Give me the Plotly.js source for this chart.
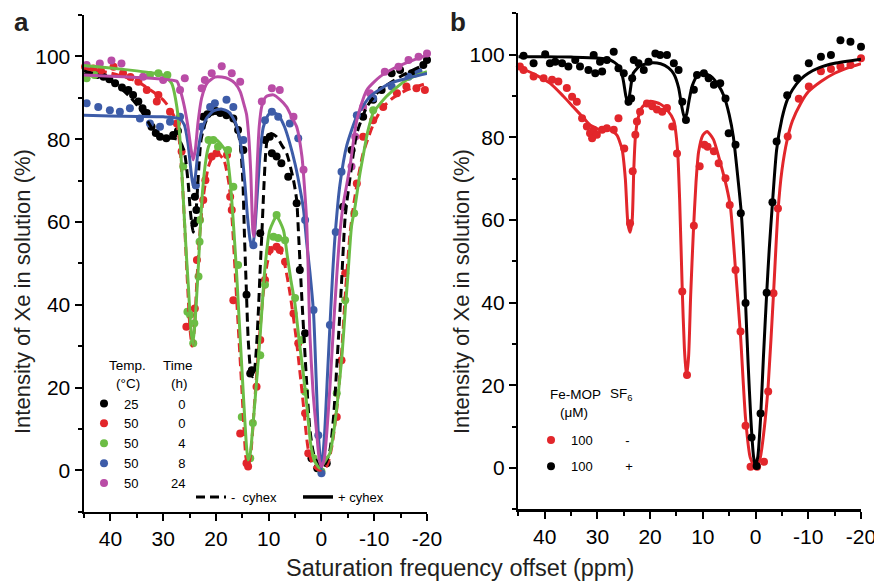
<!DOCTYPE html>
<html>
<head>
<meta charset="utf-8">
<script src="https://cdn.plot.ly/plotly-3.0.1.min.js"></script>
<style>
  html, body { margin: 0; padding: 0; background: #ffffff; }
  #chart { width: 874px; height: 581px; }
</style>
</head>
<body>
<div id="chart"></div>
<script>
// ---------------- data ----------------
const X_TICKS = [40, 30, 20, 10, 0, -10, -20];
const Y_TICKS = [0, 20, 40, 60, 80, 100];

// Panel a legend categories
const A_TEMPS = ['25', '50', '50', '50', '50'];
const A_TIMES = ['0', '0', '4', '8', '24'];
// Panel b legend categories
const B_FEMOP = ['100', '100'];
const B_SF6 = ['-', '+'];

// Panel a — 25 °C, 0 h (− cyhex)
const aBlackPts = [[44.6,95.1],[43.5,96.0],[42.5,95.5],[41.3,95.1],[40.2,94.5],[39.1,93.5],[37.8,92.5],[36.6,91.9],[35.7,90.7],[34.7,89.1],[33.9,87.5],[33.1,86.3],[32.2,83.0],[31.4,81.5],[30.6,80.6],[29.4,80.2],[28.1,81.0],[27.2,82.0],[24.1,59.7],[24.0,66.1],[23.7,62.9],[22.4,85.4],[21.6,86.0],[20.8,86.6],[20.0,86.8],[19.2,86.3],[18.0,85.8],[16.7,85.0],[15.8,82.2],[14.8,77.4],[14.2,42.4],[13.5,23.4],[13.2,24.2],[11.6,57.3],[10.7,79.8],[9.8,80.6],[9.4,76.6],[8.5,75.8],[7.6,74.2],[6.3,70.9],[4.7,64.5],[4.1,48.4],[3.1,33.1],[1.9,2.9],[0.8,0.5],[-1.0,1.7],[-4.1,63.7],[-5.7,77.4],[-7.9,85.4],[-9.8,89.5],[-11.4,91.9],[-13.3,95.9],[-14.9,96.7],[-17.1,95.9],[-19.3,97.9],[-20.0,99.1]];
const aBlackFit = [[45,96.5],[42,95.3],[39,93.3],[36.5,90.5],[34.5,87.5],[33,84.5],[31.5,81.5],[30,80.2],[28.5,80.2],[27,79.8],[26,77],[25.3,70],[24.8,62],[24.3,57.5],[23.8,62],[23.3,72],[22.8,80],[21.8,84.6],[20.5,86.5],[19.2,86.6],[17.3,86.3],[16.1,83],[15.4,79],[14.9,70],[14.6,57],[14.3,46],[13.9,32],[13.5,25],[13.1,22.6],[12.7,24],[12.3,30],[11.9,40],[11.6,49],[11.3,57],[11.0,66],[10.6,76],[10.2,80.5],[9.5,81.4],[8.5,80.6],[7.5,78.5],[6.6,76.6],[5.3,70.1],[4.7,65.3],[4.3,56],[3.7,41.1],[2.8,21],[2.2,10],[1.5,4.1],[0.3,0.9],[-0.7,1.5],[-1.6,4.8],[-2.3,13],[-2.9,25],[-3.4,36],[-3.8,45.2],[-4.5,61.3],[-5.7,73.4],[-6.7,81.4],[-8.6,87.8],[-11.1,91.9],[-14.9,95.1],[-17.5,96.8],[-20,98.3]];

// Panel a — 50 °C, 0 h (− cyhex)
const aRedPts = [[44.8,97.5],[43.2,97.1],[41.8,96.6],[39.4,97.5],[37.6,95.9],[36.2,95.0],[34.7,93.9],[33.1,91.9],[31.2,89.1],[30.9,90.7],[28.7,86.6],[27.4,83.8],[26.5,77.0],[25.6,34.7],[24.0,39.1],[23.6,50.8],[22.4,65.3],[22.0,70.1],[20.8,75.8],[19.9,76.6],[17.9,76.2],[17.3,66.1],[17.0,62.9],[16.7,41.1],[15.4,8.9],[14.2,1.7],[13.9,0.9],[12.3,20.2],[11.6,31.5],[10.7,46.0],[9.8,53.2],[8.5,54.0],[7.9,53.2],[6.9,50.4],[5.3,37.9],[4.4,30.7],[3.1,13.8],[2.5,4.1],[0.6,0.9],[-2.9,12.9],[-3.8,26.6],[-4.5,47.6],[-6.7,69.3],[-7.9,80.6],[-9.8,84.6],[-11.7,87.8],[-14.3,91.1],[-16.1,92.7],[-18.0,92.3],[-19.6,91.9]];
const aRedFit = [[45,97.0],[40,96.0],[35,94.0],[32,91.5],[30,89.5],[28.5,87.0],[27.4,83.8],[26.8,78],[26.2,66],[25.5,48],[24.9,34],[24.5,30],[24.1,34],[23.6,46],[23.0,58],[22.4,66],[21.4,73.5],[20.5,76],[19.6,76.5],[18.5,75],[17.5,69],[16.9,60],[16.1,42],[15.1,20],[14.3,3],[13.9,1],[13.4,4],[12.8,14],[12.0,28],[11.1,42],[10.2,50.5],[9.2,54],[8.2,54],[7.1,50.5],[6.0,43],[4.8,32],[3.6,18],[2.5,5],[1.5,1],[0.3,0],[-1,1],[-2,6],[-3,16],[-3.8,28],[-4.6,44],[-5.4,57],[-6.2,65],[-7,71],[-7.9,76.6],[-9.8,83.5],[-11.5,87.5],[-13.6,90],[-16,91.8],[-20,93.5]];

// Panel a — 50 °C, 4 h (+ cyhex)
const aGreenPts = [[44.5,94.7],[43.0,95.5],[32.5,95.5],[30.9,95.9],[29.2,95.5],[26.2,73.4],[25.4,38.3],[24.9,37.5],[24.3,30.7],[24.1,35.5],[23.3,46.8],[23.1,55.2],[23.0,60.5],[21.4,79.8],[20.5,79.8],[19.6,78.2],[17.7,77.4],[16.7,68.5],[15.8,49.6],[15.1,12.9],[13.5,2.9],[13.0,11.4],[11.6,27.8],[10.7,44.8],[9.1,56.4],[8.5,61.7],[8.2,56.1],[6.9,55.6],[5.0,41.6],[3.7,31.5],[3.1,19.0],[1.5,2.9],[0.0,-0.3],[-2.9,18.6],[-4.5,41.1],[-6.2,62.1],[-9.8,87.0]];
const aGreenFit = [[45,97.8],[40,97.2],[35,96.5],[32,96],[30,95.5],[28.4,93.5],[27.4,87.8],[26.8,79.8],[26.2,66],[25.6,52],[25.2,44],[24.8,35],[24.4,30.3],[24.0,35],[23.7,41],[23.3,50],[22.9,60],[22.5,68],[21.9,75],[21.4,78.2],[20.5,80.2],[19.2,79],[18.0,76.6],[17.3,70],[16.6,58],[16.1,48],[15.1,25],[14.2,5.7],[13.9,2.5],[13.5,4],[12.9,12.2],[12.2,23],[11.6,33],[10.7,49],[9.8,58],[8.5,61.3],[7.2,58],[6.5,52],[5.8,46],[5.0,40],[4.2,31],[3.5,24],[2.8,16],[2.0,6],[1.2,2],[0.3,0.5],[-0.8,2.5],[-1.6,4.1],[-2.4,10],[-3.2,18.6],[-3.9,28],[-4.5,38.7],[-5.0,47],[-5.7,59],[-6.4,64],[-7.2,71],[-7.9,76],[-8.8,82],[-9.8,86.3],[-12.3,90.3],[-16.1,94.3],[-20,96.3]];

// Panel a — 50 °C, 8 h (+ cyhex)
const aBluePts = [[44.5,88.7],[42.3,87.8],[40.1,87.0],[38.2,86.6],[36.3,87.5],[34.4,85.0],[32.5,83.8],[30.6,83.0],[28.7,84.2],[26.8,85.4],[23.8,68.8],[22.7,83.0],[21.1,87.8],[20.2,88.7],[18.0,89.5],[16.7,87.8],[14.8,79.8],[12.9,54.4],[10.7,84.6],[9.4,86.6],[8.2,85.4],[6.0,83.8],[4.4,80.2],[3.1,60.5],[1.5,38.7],[0.6,8.5],[0.0,-0.7],[-1.6,35.1],[-2.7,57.6],[-3.8,72.1],[-6.7,85.8],[-9.8,89.9],[-13.3,92.7],[-16.5,95.1],[-18.4,96.3]];
const aBlueFit = [[45,85.8],[40,85.6],[35,85.5],[30,85.4],[27,85],[26,83.5],[25.3,79],[24.7,72],[24.3,68.5],[23.9,71],[23.4,77],[22.7,82],[21.8,85],[20.5,86.8],[19,87.3],[17.5,86.5],[16.3,84],[15.2,78],[14.5,69],[14.0,61],[13.5,55.5],[13.1,54],[12.7,57],[12.2,66],[11.6,77],[11,83],[10,86],[9,86.4],[8,85.5],[7,83],[6,79],[5,74],[4.2,69],[3.4,63],[2.8,55],[2.2,48],[1.5,38],[1.0,22],[0.6,9],[0,0.3],[-0.6,9],[-1.1,22],[-1.6,34.7],[-2.1,47],[-2.6,57],[-3.5,69],[-4.8,78.5],[-6.7,85.5],[-9.2,90.3],[-13,93.5],[-17.4,95.1],[-20,95.9]];

// Panel a — 50 °C, 24 h (+ cyhex)
const aMagentaPts = [[44.5,97.9],[42.0,98.3],[39.8,99.0],[37.9,98.3],[33.8,95.1],[30.0,94.3],[26.8,91.9],[25.9,94.7],[22.7,92.3],[22.1,94.3],[20.8,95.9],[18.9,97.6],[17.0,95.9],[15.4,93.9],[11.3,89.1],[9.4,92.3],[7.9,91.9],[5.3,85.4],[3.4,72.6],[-5.7,73.4],[-6.4,80.6],[-7.9,87.8],[-9.2,91.1],[-12.0,96.3],[-14.6,97.5],[-16.5,99.1],[-18.4,99.9],[-20.0,100.7]];
const aMagentaFit = [[45,95.5],[40,95.2],[35,94.9],[30,94.5],[27.4,94],[26.8,92],[26,88],[25.3,83],[24.7,77.5],[24.3,75],[23.9,77.5],[23.4,84],[22.7,90],[21.7,93.5],[20.2,95],[18.9,95],[17.5,94.5],[16.4,93.5],[15.4,91.5],[14.6,88],[14.2,86],[13.8,81],[13.4,72],[13.0,58],[12.8,56.5],[12.5,63],[12.2,73],[11.8,83],[11.3,88],[10.5,90.3],[9.1,90.7],[7.8,89.5],[6.6,87.8],[5.5,85],[4.7,83],[3.7,75.8],[3.2,68],[2.8,60],[2.5,48],[2.2,33],[1.6,19],[0.9,8.9],[0.4,2.5],[0,0.9],[-0.5,2.5],[-1,8.9],[-1.6,20],[-2.2,33],[-2.9,47],[-3.5,57.3],[-4.1,64],[-5.4,73.4],[-6.7,84.6],[-8.6,91.9],[-11.1,95.1],[-14.3,97.5],[-17.4,99.1],[-20,100.3]];

// Panel b — Fe-MOP 100 µM, − SF6
const bRedPts = [[44.7,97.1],[44.0,96.3],[42.1,94.7],[40.2,94.3],[38.6,93.9],[37.4,93.5],[35.8,91.9],[34.8,89.8],[33.9,88.6],[32.9,84.6],[32.0,82.6],[31.4,81.0],[31.0,79.8],[30.7,81.8],[30.1,80.6],[29.1,81.8],[28.2,82.2],[26.9,81.8],[26.0,84.6],[24.9,77.3],[23.8,59.2],[23.3,71.8],[22.8,80.6],[22.5,83.8],[21.9,86.2],[20.6,88.2],[19.6,87.5],[18.7,86.7],[17.7,86.2],[16.8,87.1],[15.8,82.6],[14.9,76.1],[13.9,42.7],[13.0,22.5],[11.7,58.6],[10.6,73.0],[9.7,78.2],[9.1,77.7],[7.9,76.6],[7.0,73.7],[5.7,70.1],[4.9,63.6],[3.8,47.9],[2.85,33.0],[1.9,10.2],[0.95,0.3],[-0.3,0.3],[-1.6,1.5],[-2.4,18.5],[-3.4,42.3],[-4.25,62.8],[-6.1,80.2],[-8.2,89.3],[-10.1,92.3],[-12.4,96.0],[-14.3,96.5],[-16.1,97.1],[-18.0,97.5],[-20.0,99.1]];
const bRedFit = [[45,97],[42,95.3],[39,93.1],[36.5,90],[34.6,87.4],[32.5,84.5],[31.4,83],[29.5,81.8],[27.6,81.8],[26.3,80.5],[25.3,77],[24.7,70],[24.2,59],[23.8,57],[23.4,60],[23.1,72],[22.8,80],[22.3,84.5],[21.5,87.3],[20,88.7],[18,88],[16.8,86.7],[15.5,84],[14.8,77],[14.4,65],[13.9,43],[13.5,29],[13.1,22],[12.7,27],[12.3,42],[11.8,57],[11.3,69],[10.8,76.5],[10,80.5],[9.2,81.4],[8,79.5],[6.65,73.7],[5.5,68],[4.75,63],[3.8,48],[2.85,32],[1.9,12],[1,2.5],[0.1,0.3],[-0.8,2],[-1.6,9],[-2.4,20],[-3.4,42],[-4.25,62],[-5,72],[-6,79.4],[-7,84],[-8.55,88.2],[-10,91],[-12.4,93.5],[-15,95.5],[-17.5,96.8],[-20,97.8]];

// Panel b — Fe-MOP 100 µM, + SF6
const bBlackPts = [[44.0,99.7],[42.1,97.9],[39.9,100.1],[39.0,97.9],[38.0,98.3],[36.7,97.9],[35.5,97.1],[34.2,98.7],[33.3,97.1],[31.7,96.3],[30.7,99.9],[30.4,95.5],[29.5,98.3],[29.1,95.9],[28.2,98.7],[26.9,100.7],[26.0,96.7],[25.0,95.5],[24.1,88.6],[23.6,89.4],[23.4,94.3],[23.1,98.7],[22.2,97.9],[21.2,96.3],[20.3,98.3],[19.0,100.3],[18.1,99.9],[16.8,99.9],[15.5,97.9],[14.6,96.3],[13.9,88.6],[13.2,84.2],[11.7,91.5],[11.1,95.1],[9.8,95.5],[8.9,94.3],[7.9,92.7],[6.7,93.1],[5.7,89.4],[5.1,81.0],[3.8,78.2],[2.8,61.6],[1.9,39.9],[0.75,7.4],[-0.2,0.5],[-0.95,13.2],[-2.1,42.4],[-3.2,64.3],[-4.0,79.0],[-6.0,90.2],[-7.9,94.3],[-10.1,97.9],[-12.4,99.5],[-14.3,99.9],[-16.1,103.5],[-18.0,103.1],[-20.0,101.9]];
const bBlackFit = [[45,99.5],[40,99.5],[35,99.4],[30,99.2],[27.5,98.7],[26,97.3],[25.2,94.5],[24.6,90],[24.2,88],[23.8,91],[23.2,95.5],[22,97.2],[20,98],[18,97.8],[16.5,96.8],[15.5,95.3],[14.6,92],[14.0,87.5],[13.5,84.8],[13.1,85.5],[12.6,89],[12,92.5],[11,95],[10,95.6],[8.5,94.8],[7,92.5],[6,90],[5,85.5],[4.2,80],[3.5,72],[2.7,61.6],[2.2,50],[1.9,40],[1.4,25],[0.9,12],[0.4,3],[0.1,0.7],[-0.4,2.5],[-0.95,12],[-1.5,27],[-2.1,42],[-2.6,53],[-3.2,64],[-4,77],[-5,84.5],[-6,89],[-7,91.5],[-8.5,94],[-10,95.5],[-12,96.8],[-15,97.9],[-20,98.9]];

// ---------------- styling ----------------
const FONT = 'Liberation Sans, Arial, Helvetica, sans-serif';
const C_BLACK = '#000000';
const C_RED = '#e2262b';
const C_GREEN = '#6cbd45';
const C_BLUE = '#3d5ca8';
const C_MAGENTA = '#b94ca6';
const NB = n => '\u00a0'.repeat(n);

const xs = a => a.map(p => p[0]);
const ys = a => a.map(p => p[1]);

function pts(data, color, axis, name, legend, group) {
  return {
    type: 'scatter', mode: 'markers', x: xs(data), y: ys(data),
    xaxis: axis[0], yaxis: axis[1], cliponaxis: false,
    marker: { color: color, size: 8, line: { width: 0 } },
    name: name, showlegend: !!legend, legend: legend || 'legend',
    legendgroup: group || undefined, hoverinfo: 'x+y'
  };
}
function fit(data, color, axis, dash, name, legend) {
  return {
    type: 'scatter', mode: 'lines', x: xs(data), y: ys(data),
    xaxis: axis[0], yaxis: axis[1], cliponaxis: false,
    line: { color: color, width: 3, dash: dash || 'solid', shape: 'spline', smoothing: 0.6 },
    name: name || 'fit', showlegend: !!legend, legend: legend || 'legend', hoverinfo: 'skip'
  };
}

const A = ['x', 'y'], B = ['x2', 'y2'];
const rowA = i => A_TEMPS[i] + NB(A_TIMES[i].length > 1 ? 9 : 11) + A_TIMES[i];
const rowB = i => B_FEMOP[i] + NB(9) + B_SF6[i];

const traces = [
  // panel a points
  pts(aBlackPts, C_BLACK, A, rowA(0), 'legend'),
  pts(aRedPts, C_RED, A, rowA(1), 'legend'),
  pts(aGreenPts, C_GREEN, A, rowA(2), 'legend'),
  pts(aBluePts, C_BLUE, A, rowA(3), 'legend'),
  pts(aMagentaPts, C_MAGENTA, A, rowA(4), 'legend'),
  // panel a fits
  fit(aRedFit, C_RED, A, '9px,5px'),
  fit(aBlackFit, C_BLACK, A, '9px,5px', '-' + NB(2) + 'cyhex', 'legend2'),
  fit(aGreenFit, C_GREEN, A),
  fit(aBlueFit, C_BLUE, A),
  fit(aMagentaFit, C_MAGENTA, A),
  // legend key for the solid (+ cyhex) line style
  { type: 'scatter', mode: 'lines', x: [null], y: [null], xaxis: 'x', yaxis: 'y',
    line: { color: C_BLACK, width: 3.5 }, name: '+' + NB(1) + 'cyhex', legend: 'legend2', showlegend: true, hoverinfo: 'skip' },
  // panel b
  pts(bRedPts, C_RED, B, rowB(0), 'legend3', 'r'),
  fit(bRedFit, C_RED, B),
  pts(bBlackPts, C_BLACK, B, rowB(1), 'legend3', 'k'),
  fit(bBlackFit, C_BLACK, B)
];

function xAxis(domain, anchor) {
  return {
    domain: domain, anchor: anchor, range: [45, -20], autorange: false,
    tickvals: X_TICKS, ticktext: X_TICKS.map(String), ticklabeloverflow: 'allow',
    ticks: 'outside', ticklen: 7, tickwidth: 2, tickcolor: C_BLACK,
    minor: { tickvals: [45, 35, 25, 15, 5, -5, -15], ticks: 'outside', ticklen: 4, tickwidth: 2, tickcolor: C_BLACK, showgrid: false },
    showline: true, linewidth: 2.5, linecolor: C_BLACK, showgrid: false, zeroline: false,
    tickfont: { family: FONT, size: 21, color: C_BLACK }
  };
}
function yAxis(domain, anchor) {
  return {
    domain: domain, anchor: anchor, range: [-10, 110], autorange: false,
    tickvals: Y_TICKS, ticktext: Y_TICKS.map(String), ticklabeloverflow: 'allow',
    ticks: 'outside', ticklen: 7, tickwidth: 2, tickcolor: C_BLACK,
    minor: { tickvals: [-10, 10, 30, 50, 70, 90, 110], ticks: 'outside', ticklen: 4, tickwidth: 2, tickcolor: C_BLACK, showgrid: false },
    showline: true, linewidth: 2.5, linecolor: C_BLACK, showgrid: false, zeroline: false,
    tickfont: { family: FONT, size: 21, color: C_BLACK }
  };
}

const W = 874, H = 581;
const px = v => v / W, py = v => 1 - v / H;

const yTitle = 'Intensity of Xe in solution (%)';
const annotations = [
  { text: '<b>a</b>', x: px(21), y: py(22), xref: 'paper', yref: 'paper', showarrow: false, xanchor: 'center', yanchor: 'middle', font: { family: FONT, size: 26, color: '#231f20' } },
  { text: '<b>b</b>', x: px(458), y: py(22), xref: 'paper', yref: 'paper', showarrow: false, xanchor: 'center', yanchor: 'middle', font: { family: FONT, size: 26, color: '#231f20' } },
  { text: yTitle, textangle: -90, x: px(22), y: py(292), xref: 'paper', yref: 'paper', showarrow: false, xanchor: 'center', yanchor: 'middle', font: { family: FONT, size: 22, color: '#231f20' } },
  { text: yTitle, textangle: -90, x: px(461), y: py(292), xref: 'paper', yref: 'paper', showarrow: false, xanchor: 'center', yanchor: 'middle', font: { family: FONT, size: 22, color: '#231f20' } },
  { text: 'Saturation frequency offset (ppm)', x: px(459.7), y: py(568), xref: 'paper', yref: 'paper', showarrow: false, xanchor: 'center', yanchor: 'middle', font: { family: FONT, size: 23.5, color: '#231f20' } },
  // legend headers, panel a
  { text: 'Temp.', x: px(127.5), y: py(365), xref: 'paper', yref: 'paper', showarrow: false, xanchor: 'center', yanchor: 'middle', font: { family: FONT, size: 13.5, color: C_BLACK } },
  { text: '(°C)', x: px(128), y: py(383), xref: 'paper', yref: 'paper', showarrow: false, xanchor: 'center', yanchor: 'middle', font: { family: FONT, size: 13.5, color: C_BLACK } },
  { text: 'Time', x: px(178), y: py(365), xref: 'paper', yref: 'paper', showarrow: false, xanchor: 'center', yanchor: 'middle', font: { family: FONT, size: 13.5, color: C_BLACK } },
  { text: '(h)', x: px(179), y: py(383), xref: 'paper', yref: 'paper', showarrow: false, xanchor: 'center', yanchor: 'middle', font: { family: FONT, size: 13.5, color: C_BLACK } },
  // legend headers, panel b
  { text: 'Fe-MOP', x: px(575), y: py(394), xref: 'paper', yref: 'paper', showarrow: false, xanchor: 'center', yanchor: 'middle', font: { family: FONT, size: 13.5, color: C_BLACK } },
  { text: '(μM)', x: px(574), y: py(412), xref: 'paper', yref: 'paper', showarrow: false, xanchor: 'center', yanchor: 'middle', font: { family: FONT, size: 13.5, color: C_BLACK } },
  { text: 'SF<sub>6</sub>', x: px(621), y: py(394), xref: 'paper', yref: 'paper', showarrow: false, xanchor: 'center', yanchor: 'middle', font: { family: FONT, size: 13.5, color: C_BLACK } }
];

const legendFont = { family: FONT, size: 13, color: C_BLACK };
const layout = {
  width: W, height: H,
  margin: { l: 0, r: 0, t: 0, b: 0, pad: 0 },
  paper_bgcolor: '#ffffff', plot_bgcolor: 'rgba(0,0,0,0)',
  font: { family: FONT, color: C_BLACK },
  showlegend: true,
  xaxis: xAxis([84 / W, 427 / W], 'y'),
  yaxis: yAxis([1 - 511.7 / H, 1 - 15 / H], 'x'),
  xaxis2: xAxis([518.3 / W, 861 / W], 'y2'),
  yaxis2: yAxis([1 - 509.3 / H, 1 - 13.3 / H], 'x2'),
  legend: {
    x: px(84), y: py(388.5), xanchor: 'left', yanchor: 'top', xref: 'paper', yref: 'paper',
    bgcolor: 'rgba(0,0,0,0)', borderwidth: 0, font: legendFont, traceorder: 'normal', itemclick: false
  },
  legend2: {
    orientation: 'h', x: px(191), y: py(482), xanchor: 'left', yanchor: 'top', xref: 'paper', yref: 'paper',
    bgcolor: 'rgba(0,0,0,0)', borderwidth: 0, font: legendFont, entrywidth: 62, entrywidthmode: 'pixels'
  },
  legend3: {
    x: px(531), y: py(425), xanchor: 'left', yanchor: 'top', xref: 'paper', yref: 'paper',
    bgcolor: 'rgba(0,0,0,0)', borderwidth: 0, font: legendFont, traceorder: 'grouped', tracegroupgap: 6.5
  },
  annotations: annotations
};

Plotly.newPlot('chart', traces, layout, { staticPlot: true, displayModeBar: false });
</script>
</body>
</html>
